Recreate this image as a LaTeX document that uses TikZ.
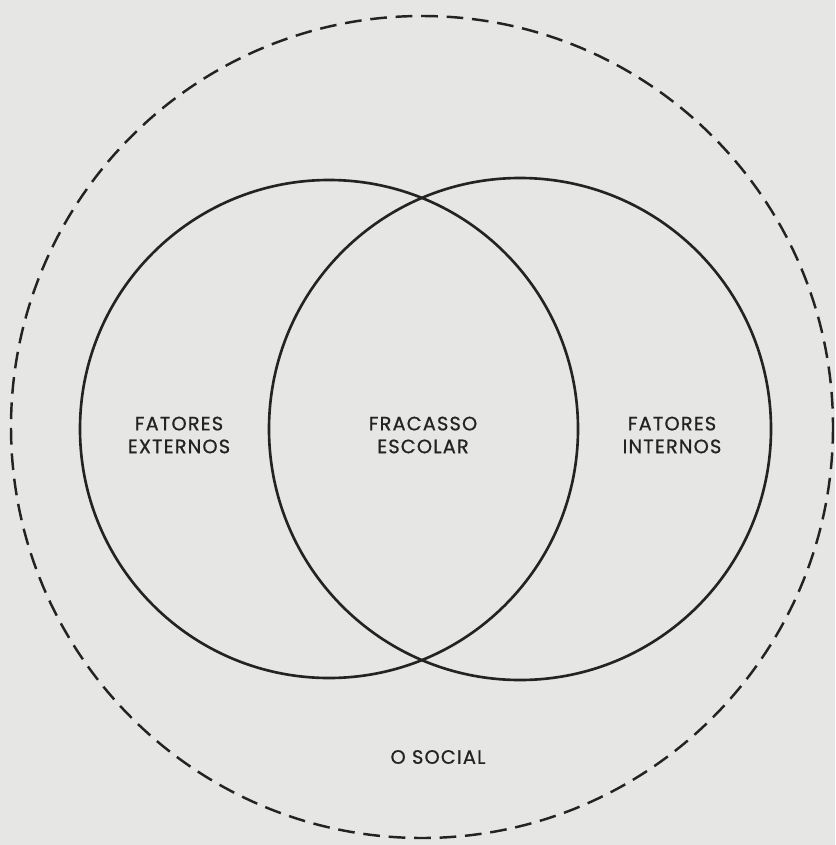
\documentclass[tikz,border=0pt]{standalone}
\usepackage{fontspec}
\setmainfont{Poppins}[LetterSpace=6, FakeBold=0.8]
\usetikzlibrary{positioning}
\definecolor{paper}{RGB}{230,230,228}
\definecolor{ink}{RGB}{35,35,35}
\tikzset{every node/.append style={execute at begin node={\hyphenpenalty=10000\exhyphenpenalty=10000\relax}}}

\begin{document}
\begin{tikzpicture}[x=0.02cm, y=-0.02cm, font=\fontsize{11}{13}\selectfont,
  ring/.style={ink, line width=1.5pt},
  outer ring/.style={ink, line width=1.4pt, dash pattern=on 9.5pt off 5pt},
  label/.style={ink, align=center, inner sep=0pt}]
  \fill[paper] (0,0) rectangle (835,845);
  \useasboundingbox (0,0) rectangle (835,845);
  \draw[outer ring] (422,427) circle (411);
  \draw[ring] (329,429) circle (249);
  \draw[ring] (520,429) circle (251);
  \node[label] (externos) at (179,435) {FATORES\\EXTERNOS};
  \node[label] (fracasso) at (423,435) {FRACASSO\\ESCOLAR};
  \node[label] (internos) at (672,435) {FATORES\\INTERNOS};
  \node[label] (social) at (438,757) {O SOCIAL};
\end{tikzpicture}
\end{document}
